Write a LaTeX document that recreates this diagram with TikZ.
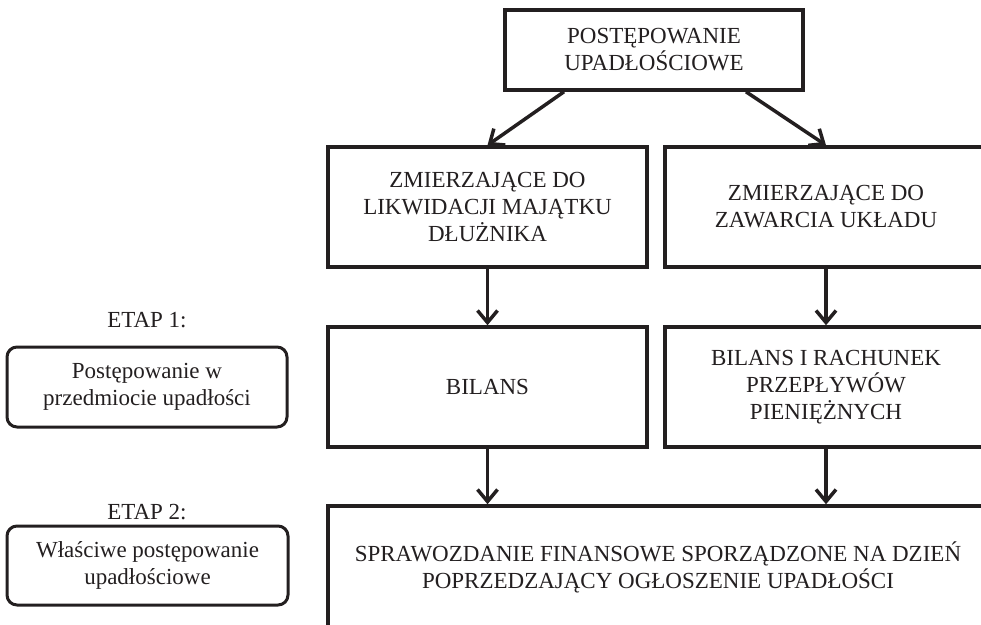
\documentclass[tikz,border=0pt]{standalone}
\usepackage{fontspec}
\setmainfont{Liberation Serif}
\usetikzlibrary{arrows.meta}
\definecolor{ink}{HTML}{231F20}
\tikzset{
  box/.style={draw=ink, line width=3.5pt, fill=white, align=center, inner sep=0pt, text=ink},
  rbox/.style={draw=ink, line width=3pt, rounded corners=10pt, align=center, inner sep=0pt, text=ink},
  lbl/.style={text=ink, inner sep=0pt},
  arr/.style={draw=ink, line width=3.5pt, -{Straight Barb[length=12pt,width=20pt,line width=3.5pt]}},
}
\begin{document}
\begin{tikzpicture}[x=1pt,y=-1pt,font=\fontsize{23}{27}\selectfont]
\useasboundingbox (0,0) rectangle (981,624);
\clip (0,0) rectangle (981,624);
% main boxes
\node[box, minimum width=298pt, minimum height=80pt] (top) at (654,50) {POSTĘPOWANIE\\UPADŁOŚCIOWE};
\node[box, minimum width=319pt, minimum height=120pt] (l2) at (487.5,207) {ZMIERZAJĄCE DO\\LIKWIDACJI MAJĄTKU\\DŁUŻNIKA};
\node[box, minimum width=322pt, minimum height=120pt] (r2) at (826,207) {ZMIERZAJĄCE DO\\ZAWARCIA UKŁADU};
\node[box, minimum width=319pt, minimum height=120pt] (l3) at (487.5,387) {BILANS};
\node[box, minimum width=322pt, minimum height=120pt] (r3) at (826,387) {BILANS I RACHUNEK\\PRZEPŁYWÓW\\PIENIĘŻNYCH};
\node[box, minimum width=660pt, minimum height=122pt] (bot) at (658,567) {SPRAWOZDANIE FINANSOWE SPORZĄDZONE NA DZIEŃ\\POPRZEDZAJĄCY OGŁOSZENIE UPADŁOŚCI};
% stage labels
\node[lbl] (e1) at (147,320) {ETAP 1:};
\node[rbox, minimum width=280pt, minimum height=80pt] (s1) at (147,387) {Postępowanie w\\przedmiocie upadłości};
\node[lbl] (e2) at (147,512) {ETAP 2:};
\node[rbox, minimum width=281pt, minimum height=79pt] (s2) at (147.5,565.5) {Właściwe postępowanie\\upadłościowe};
% connectors
\draw[arr] ([xshift=-90pt]top.south) -- (l2.north);
\draw[arr] ([xshift=92pt]top.south) -- (r2.north);
\draw[arr] (l2.south) -- (l3.north);
\draw[arr] (r2.south) -- (r3.north);
\draw[arr] (l3.south) -- (l3.south |- bot.north);
\draw[arr] (r3.south) -- (r3.south |- bot.north);
\end{tikzpicture}
\end{document}
